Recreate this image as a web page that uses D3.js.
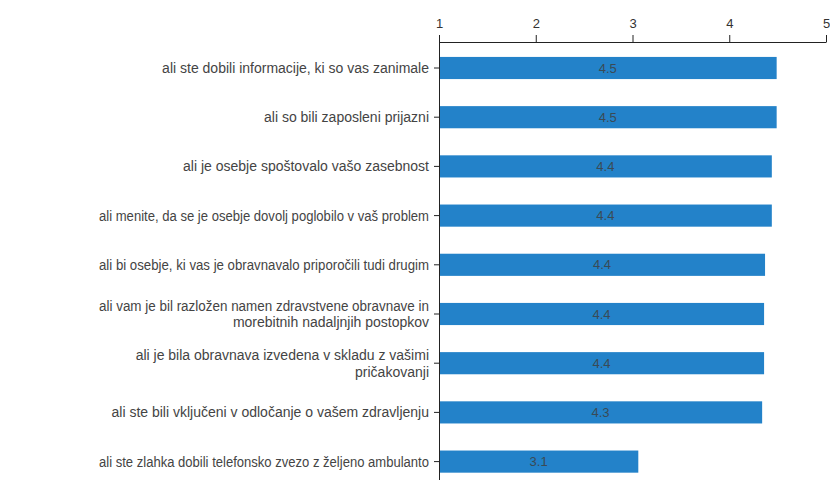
<!DOCTYPE html>
<html><head><meta charset="utf-8">
<script src="https://cdn.jsdelivr.net/npm/d3@7"></script>
<style>
html,body{margin:0;padding:0;background:#fff;}
svg{display:block;}
</style></head>
<body>
<svg id="chart" width="830" height="480"></svg>
<script>
const categories = [
  ["ali ste dobili informacije, ki so vas zanimale"],
  ["ali so bili zaposleni prijazni"],
  ["ali je osebje spoštovalo vašo zasebnost"],
  ["ali menite, da se je osebje dovolj poglobilo v vaš problem"],
  ["ali bi osebje, ki vas je obravnavalo priporočili tudi drugim"],
  ["ali vam je bil razložen namen zdravstvene obravnave in", "morebitnih nadaljnjih postopkov"],
  ["ali je bila obravnava izvedena v skladu z vašimi", "pričakovanji"],
  ["ali ste bili vključeni v odločanje o vašem zdravljenju"],
  ["ali ste zlahka dobili telefonsko zvezo z željeno ambulanto"]
];
const values = [4.49, 4.49, 4.44, 4.44, 4.37, 4.36, 4.36, 4.34, 3.06];
const valueLabels = ["4.5", "4.5", "4.4", "4.4", "4.4", "4.4", "4.4", "4.3", "3.1"];
const xTicks = [1, 2, 3, 4, 5];

const svg = d3.select("#chart");
const x = d3.scaleLinear().domain([1, 5]).range([439, 826]);
const y = d3.scaleBand().domain(d3.range(categories.length)).range([43.4, 486.2])
  .paddingInner(0.55).paddingOuter(0.275);

const font = "'Liberation Sans', Arial, sans-serif";

// bars
svg.append("g").selectAll("rect").data(values).join("rect")
  .attr("x", x(1))
  .attr("y", (d, i) => y(i))
  .attr("width", d => x(d) - x(1))
  .attr("height", y.bandwidth())
  .attr("fill", "#2382c9");

// value labels
svg.append("g").selectAll("text").data(values).join("text")
  .attr("x", d => (x(1) + x(d)) / 2)
  .attr("y", (d, i) => y(i) + y.bandwidth() / 2)
  .attr("dy", "0.35em")
  .attr("text-anchor", "middle")
  .attr("font-family", font)
  .attr("font-size", 13)
  .attr("fill", "#3a4a55")
  .text((d, i) => valueLabels[i]);

// top axis
const xAxis = svg.append("g").attr("transform", "translate(0,42)")
  .call(d3.axisTop(x).tickValues(xTicks).tickFormat(d3.format("d")).tickSizeInner(7).tickSizeOuter(0).tickPadding(7));
xAxis.selectAll("text").attr("font-family", font).attr("font-size", 13).attr("fill", "#333");
xAxis.selectAll("line,path").attr("stroke", "#222");

// left axis
const yAxis = svg.append("g").attr("transform", `translate(${x(1)},0)`)
  .call(d3.axisLeft(y).tickSizeInner(5).tickSizeOuter(0).tickFormat(""));
yAxis.select(".domain").attr("d", `M0.5,42V486`).attr("stroke", "#222");
yAxis.selectAll("line").attr("stroke", "#222");

// category labels
const labelRight = x(1) - 10;
const maxLabelWidth = 330;
const lab = svg.append("g").selectAll("text").data(categories).join("text")
  .attr("x", labelRight)
  .attr("y", (d, i) => y(i) + y.bandwidth() / 2)
  .attr("text-anchor", "end")
  .attr("font-family", font)
  .attr("font-size", 14)
  .attr("fill", "#444");
lab.each(function(d) {
  const t = d3.select(this);
  const n = d.length;
  d.forEach((line, k) => {
    const ts = t.append("tspan").attr("x", labelRight)
      .attr("dy", k === 0 ? `${0.35 - (n - 1) * 0.6}em` : "1.2em")
      .text(line);
    const w = ts.node().getComputedTextLength();
    if (w > maxLabelWidth) {
      ts.attr("textLength", maxLabelWidth).attr("lengthAdjust", "spacingAndGlyphs");
    }
  });
});
</script>
</body></html>
